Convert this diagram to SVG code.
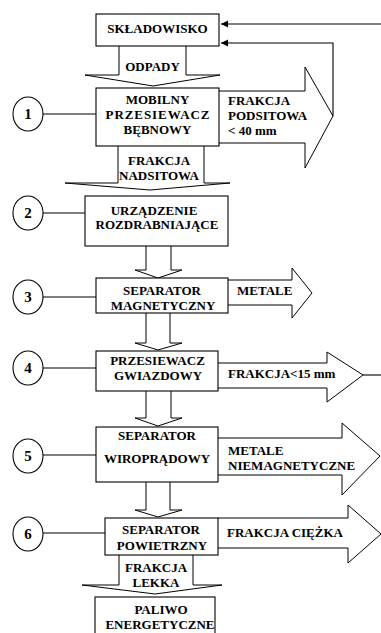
<svg xmlns="http://www.w3.org/2000/svg" width="381" height="633" viewBox="0 0 381 633">
<style>
.b{fill:#fff;stroke:#000;stroke-width:1.1}
.a{fill:#fff;stroke:#000;stroke-width:1}
.l{fill:none;stroke:#000;stroke-width:1.1}
.t{font-family:"Liberation Serif","Times New Roman",serif;font-weight:bold;font-size:13px;fill:#000}
.m{text-anchor:middle}
.n{font-family:"Liberation Serif","Times New Roman",serif;font-weight:bold;font-size:15px;fill:#000;text-anchor:middle}
</style>
<defs>
<marker id="ah" markerWidth="8" markerHeight="8" refX="7" refY="4" orient="auto" markerUnits="userSpaceOnUse">
<path d="M0,0.5 L7,4 L0,7.5 Z" fill="#000"/>
</marker>
</defs>
<rect width="381" height="633" fill="#fff"/>
<g id="connectors">
<polyline class="a" points="119,46 119,75 85,75 153,86 220,75 186,75 186,46"/>
<polyline class="a" points="118,146 118,183 65,183 150,190 230,183 204,183 204,146"/>
<polyline class="a" points="146,246 146,270 135,270 158,278 182,270 171,270 171,246"/>
<polyline class="a" points="146,313 146,343 135,343 158,350 182,343 170,343 170,313"/>
<polyline class="a" points="146,391 146,418 135,418 158,426 182,418 171,418 171,391"/>
<polyline class="a" points="146,482 146,510 135,510 158,517 182,510 170,510 170,482"/>
<polyline class="a" points="119,555 119,585 82,585 155,594 222,585 193,585 193,555"/>
<polyline class="a" points="219,91 305,91 305,67 333,116 305,168 305,143 219,143"/>
<polyline class="a" points="228,280 292,280 292,268 312,293 292,318 292,305 228,305"/>
<polyline class="a" points="218,363 327,363 327,352 363,375 327,402 327,388 218,388"/>
<polyline class="a" points="218,438 342,438 342,423 380,456 342,495 342,475 218,475"/>
<polyline class="a" points="218,518 348,518 348,505 381,534 348,563 348,548 218,548"/>
<line class="l" x1="363" y1="375" x2="381" y2="375"/>
<line class="l" x1="381" y1="24" x2="221" y2="24" marker-end="url(#ah)"/>
<polyline class="l" points="333,116 333,43 221,43" marker-end="url(#ah)"/>
<line class="l" x1="43" y1="114" x2="96" y2="114"/>
<line class="l" x1="43" y1="213" x2="85" y2="213"/>
<line class="l" x1="43" y1="297" x2="96" y2="297"/>
<line class="l" x1="43" y1="368" x2="96" y2="368"/>
<line class="l" x1="43" y1="455" x2="96" y2="455"/>
<line class="l" x1="43" y1="533" x2="105" y2="533"/>
</g>
<g id="labels">
<text class="t m" x="152.5" y="71">ODPADY</text>
<text class="t" x="228" y="105">FRAKCJA</text>
<text class="t" x="228" y="120">PODSITOWA</text>
<text class="t" x="228" y="135">&lt; 40 mm</text>
<text class="t m" x="159" y="165">FRAKCJA</text>
<text class="t m" x="159" y="180">NADSITOWA</text>
<text class="t" x="237" y="295">METALE</text>
<text class="t" x="228" y="378">FRAKCJA&lt;15 mm</text>
<text class="t" x="228" y="455">METALE</text>
<text class="t" x="228" y="470">NIEMAGNETYCZNE</text>
<text class="t" x="227" y="537">FRAKCJA CIĘŻKA</text>
<text class="t m" x="156" y="572">FRAKCJA</text>
<text class="t m" x="156" y="587">LEKKA</text>
</g>
<g id="skladowisko">
<rect class="b" x="96" y="14" width="123" height="32"/>
<text class="t m" x="157.5" y="33">SKŁADOWISKO</text>
</g>
<g id="przesiewacz-bebnowy">
<rect class="b" x="96" y="88" width="123" height="58"/>
<text class="t m" x="157.5" y="104">MOBILNY</text>
<text class="t m" x="157.5" y="119" textLength="104" lengthAdjust="spacing">PRZESIEWACZ</text>
<text class="t m" x="157.5" y="134">BĘBNOWY</text>
</g>
<g id="urzadzenie-rozdrabniajace">
<rect class="b" x="85" y="196" width="143" height="50"/>
<text class="t m" x="154" y="215">URZĄDZENIE</text>
<text class="t m" x="157" y="229">ROZDRABNIAJĄCE</text>
</g>
<g id="separator-magnetyczny">
<rect class="b" x="96" y="278" width="132" height="35"/>
<text class="t m" x="162" y="295">SEPARATOR</text>
<text class="t m" x="163" y="310">MAGNETYCZNY</text>
</g>
<g id="przesiewacz-gwiazdowy">
<rect class="b" x="96" y="351" width="122" height="40"/>
<text class="t m" x="157.5" y="365">PRZESIEWACZ</text>
<text class="t m" x="158" y="380">GWIAZDOWY</text>
</g>
<g id="separator-wiropradowy">
<rect class="b" x="96" y="427" width="122" height="55"/>
<text class="t m" x="157" y="440">SEPARATOR</text>
<text class="t m" x="157" y="463">WIROPRĄDOWY</text>
</g>
<g id="separator-powietrzny">
<rect class="b" x="105" y="518" width="113" height="37"/>
<text class="t m" x="161" y="534">SEPARATOR</text>
<text class="t m" x="162" y="550">POWIETRZNY</text>
</g>
<g id="paliwo">
<rect class="b" x="95" y="597" width="120" height="40"/>
<text class="t m" x="161" y="614">PALIWO</text>
<text class="t m" x="160" y="629">ENERGETYCZNE</text>
</g>
<g id="n1"><ellipse class="b" cx="28" cy="114" rx="15" ry="17"/><text class="n" x="28" y="119">1</text></g>
<g id="n2"><ellipse class="b" cx="28" cy="213" rx="15" ry="17"/><text class="n" x="28" y="218">2</text></g>
<g id="n3"><ellipse class="b" cx="28" cy="297" rx="15" ry="17"/><text class="n" x="28" y="302">3</text></g>
<g id="n4"><ellipse class="b" cx="28" cy="368" rx="15" ry="17"/><text class="n" x="28" y="373">4</text></g>
<g id="n5"><ellipse class="b" cx="28" cy="456" rx="15" ry="17"/><text class="n" x="28" y="461">5</text></g>
<g id="n6"><ellipse class="b" cx="28" cy="534" rx="15" ry="17"/><text class="n" x="28" y="539">6</text></g>
</svg>
